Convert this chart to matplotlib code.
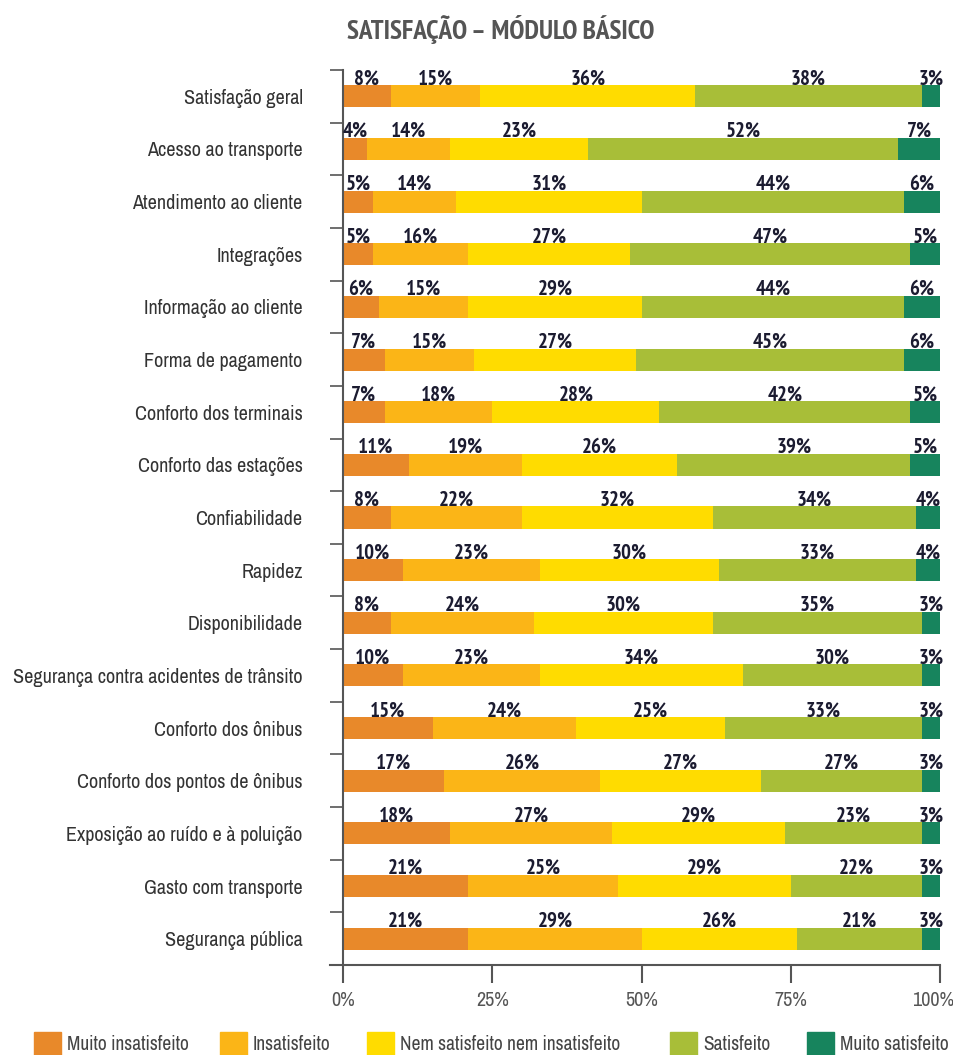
import matplotlib
matplotlib.use("Agg")
import matplotlib.pyplot as plt
from matplotlib.patches import Rectangle
from matplotlib.lines import Line2D
from matplotlib import font_manager
from matplotlib.font_manager import FontProperties
import matplotlib.transforms as mtransforms

categories = [
    "Satisfação geral", "Acesso ao transporte", "Atendimento ao cliente", "Integrações",
    "Informação ao cliente", "Forma de pagamento", "Conforto dos terminais",
    "Conforto das estações", "Confiabilidade", "Rapidez", "Disponibilidade",
    "Segurança contra acidentes de trânsito", "Conforto dos ônibus",
    "Conforto dos pontos de ônibus", "Exposição ao ruído e à poluição",
    "Gasto com transporte", "Segurança pública",
]
muito_insatisfeito = [8, 4, 5, 5, 6, 7, 7, 11, 8, 10, 8, 10, 15, 17, 18, 21, 21]
insatisfeito = [15, 14, 14, 16, 15, 15, 18, 19, 22, 23, 24, 23, 24, 26, 27, 25, 29]
nem = [36, 23, 31, 27, 29, 27, 28, 26, 32, 30, 30, 34, 25, 27, 29, 29, 26]
satisfeito = [38, 52, 44, 47, 44, 45, 42, 39, 34, 33, 35, 30, 33, 27, 23, 22, 21]
muito_satisfeito = [3, 7, 6, 5, 6, 6, 5, 5, 4, 4, 3, 3, 3, 3, 3, 3, 3]
series_names = ["Muito insatisfeito", "Insatisfeito", "Nem satisfeito nem insatisfeito",
                "Satisfeito", "Muito satisfeito"]
series = [muito_insatisfeito, insatisfeito, nem, satisfeito, muito_satisfeito]
colors = ["#E8892A", "#FBB517", "#FFDC00", "#A8BE38", "#17845D"]
xticks = [0, 25, 50, 75, 100]
xticklabels = ["0%", "25%", "50%", "75%", "100%"]


def find_condensed(bold):
    best = None
    for f in font_manager.fontManager.ttflist:
        nm = f.name.lower()
        fn = f.fname.lower()
        is_cond = (f.stretch in ("condensed", "semi-condensed", "extra-condensed")
                   or "narrow" in nm or "condensed" in nm or "condensed" in fn or "narrow" in fn)
        if not is_cond or f.style != "normal":
            continue
        w = f.weight if isinstance(f.weight, int) else (700 if "bold" in str(f.weight) else 400)
        if bold and (w < 600 or w > 800):
            continue
        if not bold and w >= 600:
            continue
        rank = 0 if "narrow" in nm else (1 if "roboto" in nm else 2)
        if best is None or rank < best[0]:
            best = (rank, f.fname)
    return best[1] if best else None


reg_file = find_condensed(False)
bold_file = find_condensed(True)


def fp(size, bold=False):
    path = bold_file if bold else reg_file
    if path:
        return FontProperties(fname=path, size=size)
    return FontProperties(family="DejaVu Sans", size=size * 0.9,
                          weight="bold" if bold else "normal")


W, H = 954, 1055
fig = plt.figure(figsize=(W / 100, H / 100), dpi=100)
ax_left, ax_right, ax_top, ax_bot = 343, 940, 70, 965
ax = fig.add_axes([ax_left / W, 1 - ax_bot / H, (ax_right - ax_left) / W, (ax_bot - ax_top) / H])

n = len(categories)
ys = list(range(n))
bar_h = 0.42
left = [0.0] * n
for vals, c in zip(series, colors):
    ax.barh(ys, vals, left=left, height=bar_h, color=c, edgecolor="none")
    for i, v in enumerate(vals):
        ax.text(left[i] + v / 2, i - bar_h / 2 + 0.06, f"{v}%", ha="center", va="bottom",
                fontproperties=fp(15, True), color="#1b1b30")
    left = [l + v for l, v in zip(left, vals)]

ax.set_xlim(0, 100)
ax.set_ylim(n - 0.5, -0.5)
for s in ax.spines.values():
    s.set_visible(False)

ax.set_yticks(ys)
ax.set_yticklabels(categories, color="#333333")
for t in ax.get_yticklabels():
    t.set_fontproperties(fp(14.5))
ax.tick_params(axis="y", length=0, pad=29)
ax.set_yticks([i - 0.5 for i in range(n + 1)], minor=True)
ax.tick_params(axis="y", which="minor", length=9.5, width=1.2, color="#555555", direction="out")

ax.set_xticks(xticks)
ax.set_xticklabels([])
ax.tick_params(axis="x", length=13, width=1.5, color="#555555")
xtrans = ax.get_xaxis_transform()
for xv, lab in zip(xticks, xticklabels):
    tr = xtrans
    if xv == xticks[-1]:
        tr = xtrans + mtransforms.ScaledTranslation(-7 / 100, 0, fig.dpi_scale_trans)
    ax.text(xv, -35 / (ax_bot - ax_top), lab, transform=tr, ha="center", va="center",
            fontproperties=fp(14.5), color="#555555", clip_on=False)

# axis lines
ax.add_line(Line2D([0, 0], [-0.5, n - 0.5], color="#555555", lw=1.5, clip_on=False))
ax.add_line(Line2D([-0.022, 1.0], [0, 0], transform=ax.transAxes, color="#555555",
                   lw=1.5, clip_on=False))

fig.text(501 / W, 1 - 29 / H, "SATISFAÇÃO – MÓDULO BÁSICO", ha="center", va="center",
         fontproperties=fp(19.5, True), color="#555555")

# legend
leg_sq_x = [34, 220, 367, 670, 807]
ly = 1044
for x, name, c in zip(leg_sq_x, series_names, colors):
    fig.patches.append(Rectangle((x / W, 0), 27 / W, (H - 1032) / H,
                                 transform=fig.transFigure, color=c))
    fig.text((x + 33) / W, 1 - ly / H, name, ha="left", va="center",
             fontproperties=fp(14), color="#444444")

fig.savefig("out.png", dpi=100)
